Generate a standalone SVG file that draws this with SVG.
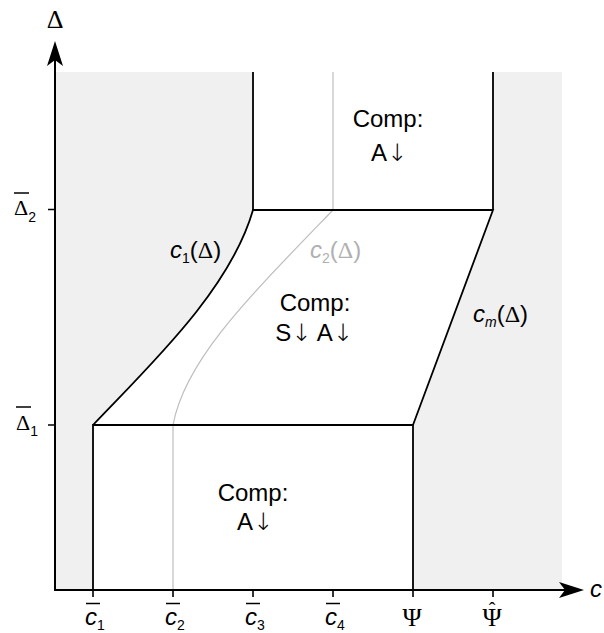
<svg xmlns="http://www.w3.org/2000/svg" width="604" height="633" viewBox="0 0 604 633">
<style>
.bd{fill:none;stroke:#000;stroke-width:1.8}
.gl{fill:none;stroke:#bdbdbd;stroke-width:1.2}
.ax{fill:none;stroke:#000;stroke-width:2}
.tk{stroke:#000;stroke-width:1.6}
.sans{font-family:"Liberation Sans",Arial,sans-serif;fill:#000}
.ser{font-family:"Liberation Serif","Times New Roman",serif;fill:#000}
.arr{font-family:"DejaVu Sans",sans-serif;font-weight:200}
.it{font-style:italic}
.lbl{font-size:24px}
.sub{font-size:14px}
</style>
<rect x="0" y="0" width="604" height="633" fill="#fff"/>
<g id="background">
<rect x="55" y="72" width="507" height="518" fill="#f0f0f0"/>
<path d="M93,590 L93,425 C150,365 230,290 253,210 L253,72 L493,72 L493,210 L413,425 L413,590 Z" fill="#fff"/>
</g>
<g id="connectors">
<path class="gl" d="M173,590 L173,425 C185,360 248,298 333,210 L333,72"/>
<path class="bd" d="M93,590 L93,425 L413,425 L413,590"/>
<path class="bd" d="M93,425 C150,365 230,290 253,210 L493,210 L413,425"/>
<path class="bd" d="M253,210 L253,72 M493,210 L493,72"/>
</g>
<g id="axes">
<path class="ax" d="M55,591 L55,58"/>
<path d="M55,41 L63,66 L55,60 L47,66 Z" fill="#000"/>
<path class="ax" d="M54,590 L568,590"/>
<path d="M584,590 L559,582 L565,590 L559,598 Z" fill="#000"/>
<path class="tk" d="M48,209.5 H55 M48,425 H55 M93,590 V597 M173,590 V597 M253,590 V597 M333,590 V597 M413,590 V597 M493,590 V597"/>
<text class="ser" x="55" y="28" font-size="26" text-anchor="middle">Δ</text>
<text class="sans it" x="590" y="597" font-size="24">c</text>
</g>
<g id="y-ticks">
<text class="ser" x="14" y="215" font-size="22">Δ<tspan class="sans sub" dy="7">2</tspan></text>
<line x1="14" y1="193" x2="29" y2="193" stroke="#000" stroke-width="1.5"/>
<text class="ser" x="16" y="430" font-size="22">Δ<tspan class="sans sub" dy="6">1</tspan></text>
<line x1="16" y1="407" x2="31" y2="407" stroke="#000" stroke-width="1.5"/>
</g>
<g id="x-ticks">
<text class="sans it lbl" x="85" y="625">c<tspan class="sub" font-style="normal" dy="5">1</tspan></text>
<line x1="86" y1="603.5" x2="100" y2="603.5" stroke="#000" stroke-width="1.5"/>
<text class="sans it lbl" x="165" y="625">c<tspan class="sub" font-style="normal" dy="5">2</tspan></text>
<line x1="166" y1="603.5" x2="180" y2="603.5" stroke="#000" stroke-width="1.5"/>
<text class="sans it lbl" x="245" y="625">c<tspan class="sub" font-style="normal" dy="5">3</tspan></text>
<line x1="246" y1="603.5" x2="260" y2="603.5" stroke="#000" stroke-width="1.5"/>
<text class="sans it lbl" x="325" y="625">c<tspan class="sub" font-style="normal" dy="5">4</tspan></text>
<line x1="326" y1="603.5" x2="340" y2="603.5" stroke="#000" stroke-width="1.5"/>
<text class="ser" x="412" y="626" font-size="26" text-anchor="middle">Ψ</text>
<text class="ser" x="492" y="626" font-size="26" text-anchor="middle">Ψ</text>
<text class="ser" x="492" y="617" font-size="20" text-anchor="middle">ˆ</text>
</g>
<g id="region-top">
<text class="sans" x="388" y="127" font-size="24" text-anchor="middle">Comp:</text>
<text class="sans" x="389" y="161" font-size="24" text-anchor="middle">A<tspan class="arr">↓</tspan></text>
</g>
<g id="region-middle">
<text class="sans" x="315" y="311" font-size="24" text-anchor="middle">Comp:</text>
<text class="sans" x="314" y="341" font-size="24" text-anchor="middle">S<tspan class="arr">↓</tspan> A<tspan class="arr">↓</tspan></text>
</g>
<g id="region-bottom">
<text class="sans" x="253" y="501" font-size="24" text-anchor="middle">Comp:</text>
<text class="sans" x="255" y="530" font-size="24" text-anchor="middle">A<tspan class="arr">↓</tspan></text>
</g>
<g id="curve-labels">
<text class="sans lbl" x="170" y="258"><tspan class="it">c</tspan><tspan class="sub" dy="5">1</tspan><tspan dy="-5">(</tspan><tspan class="ser">Δ</tspan>)</text>
<text class="sans lbl" x="310" y="258" style="fill:#b0b0b0"><tspan class="it">c</tspan><tspan class="sub" dy="5">2</tspan><tspan dy="-5">(</tspan><tspan class="ser" style="fill:#b0b0b0">Δ</tspan>)</text>
<text class="sans lbl" x="473" y="322"><tspan class="it">c</tspan><tspan class="sub it" dy="5">m</tspan><tspan dy="-5">(</tspan><tspan class="ser">Δ</tspan>)</text>
</g>
</svg>
